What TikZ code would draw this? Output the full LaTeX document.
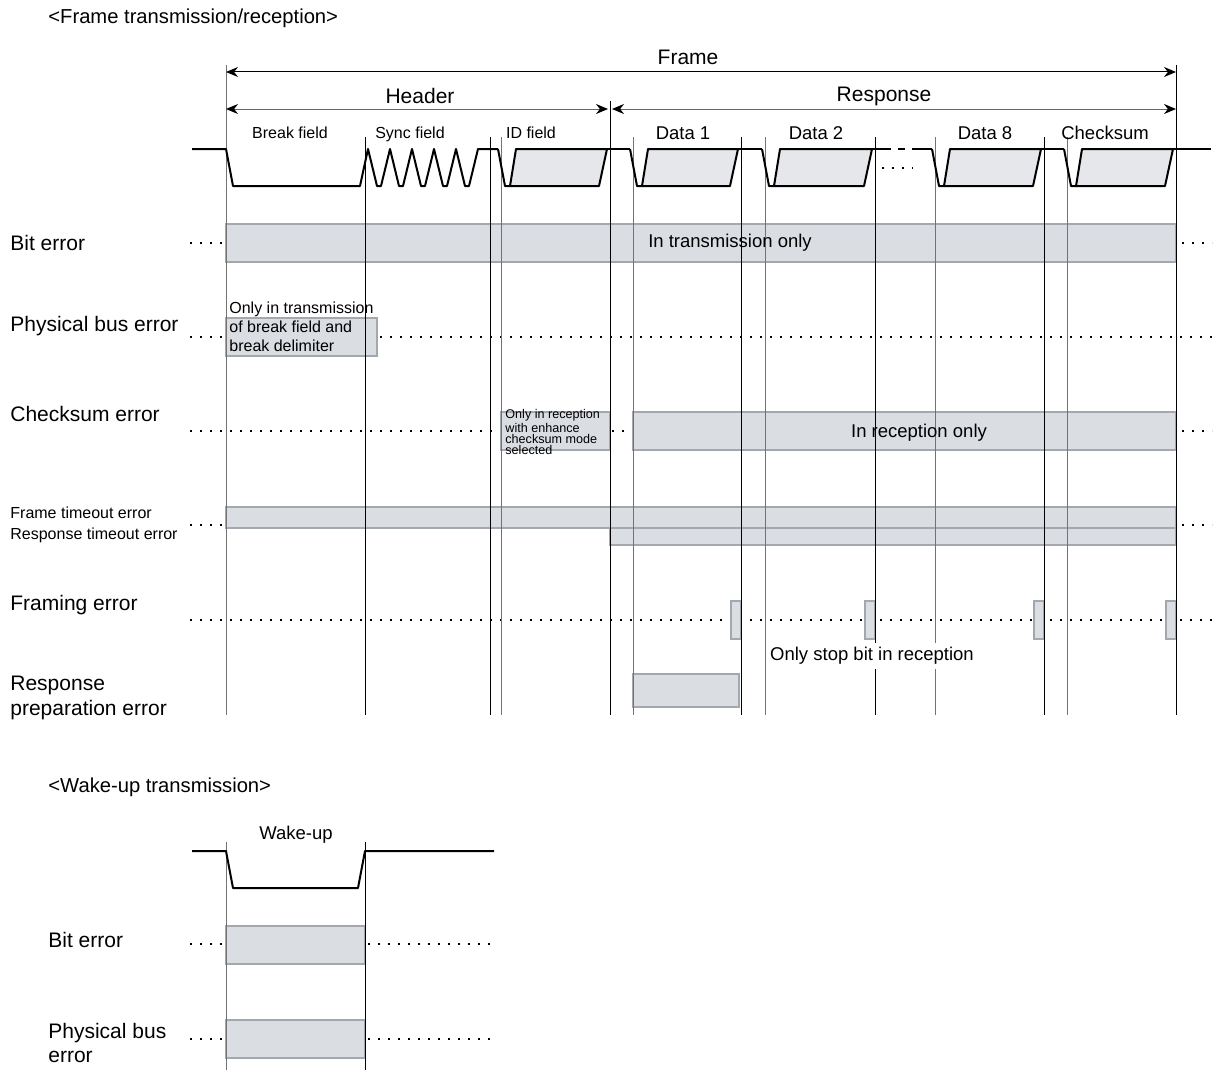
\documentclass[tikz,border=0pt]{standalone}
\usepackage{fontspec}
\setmainfont{Liberation Sans}
\usetikzlibrary{arrows.meta}

\definecolor{boxfill}{RGB}{218,221,226}
\definecolor{boxline}{RGB}{163,168,174}
\definecolor{sigfill}{RGB}{229,231,234}

\begin{document}
\begin{tikzpicture}[
  x=0.5pt, y=-0.5pt,
  vline/.style={black, line width=0.5pt},
  vlinelt/.style={black!55, line width=0.5pt},
  sig/.style={line width=1pt, line join=round},
  sigbox/.style={sig, fill=sigfill},
  errbox/.style={draw=boxline, fill=boxfill, line width=0.75pt},
  dotrow/.style={line width=0.8pt, dash pattern=on 0.8pt off 4.2pt},
  dimarr/.style={{Stealth[black,length=6pt,width=5pt]}-{Stealth[black,length=6pt,width=5pt]}, line width=0.5pt},
  rowlabel/.style={anchor=west, inner sep=0pt, align=left, font=\fontsize{10.5}{12.5}\selectfont},
  smalllabel/.style={anchor=west, inner sep=0pt, align=left, font=\fontsize{8}{9.5}\selectfont},
  fieldlabel/.style={inner sep=0pt, font=\fontsize{8}{9.5}\selectfont},
  bytelabel/.style={inner sep=0pt, font=\fontsize{9.25}{11}\selectfont},
  dimlabel/.style={inner sep=0pt, font=\fontsize{10.5}{12.5}\selectfont},
]
\useasboundingbox (0,0) rectangle (1213,1070);

% --- Titles ---
\node[rowlabel, font=\fontsize{10.1}{12}\selectfont] (title) at (48,18) {<Frame transmission/reception>};
\node[rowlabel, font=\fontsize{10.1}{12}\selectfont] (wtitle) at (48,787) {<Wake-up transmission>};

% --- Dotted rows ---
\draw[dotrow] (190,243) -- (226,243);
\draw[dotrow] (1182,243) -- (1212,243);
\draw[dotrow] (190,337) -- (226,337);
\draw[dotrow] (380,337) -- (1212,337);
\draw[dotrow] (190,431) -- (501,431);
\draw[dotrow] (612,431) -- (633,431);
\draw[dotrow] (1182,431) -- (1212,431);
\draw[dotrow] (190,525) -- (226,525);
\draw[dotrow] (1182,525) -- (1212,525);
\draw[dotrow] (190,620) -- (1212,620);
\draw[dotrow] (190,944) -- (226,944);
\draw[dotrow] (368,944) -- (492,944);
\draw[dotrow] (190,1039) -- (226,1039);
\draw[dotrow] (368,1039) -- (492,1039);

% --- Error ranges ---
\draw[errbox] (226,224) rectangle (1176,262);
\draw[errbox] (226,318) rectangle (377,356);
\draw[errbox] (501,412) rectangle (610,450);
\draw[errbox] (633,412) rectangle (1176,450);
\draw[errbox] (610,528) rectangle (1176,545);
\draw[errbox] (226,507) rectangle (1176,528);
\foreach \xs in {741,875,1044,1176}
  \draw[errbox] (\xs-10,601) rectangle (\xs,639);
\draw[errbox] (633,674) rectangle (739,707);
\draw[errbox] (226,926) rectangle (365,964);
\draw[errbox] (226,1020) rectangle (365,1058);

% --- Field borders ---
\foreach \xv in {365,490,741,875,1044}
  \draw[vline] (\xv,137) -- (\xv,715);
\foreach \xv in {501,633,765,935,1067}
  \draw[vlinelt] (\xv,137) -- (\xv,715);
\draw[vlinelt] (226,65) -- (226,715);
\draw[vline] (1176,65) -- (1176,715);
\draw[vline] (610,101) -- (610,715);
\draw[vlinelt] (226,842) -- (226,1070);
\draw[vline] (365,842) -- (365,1070);

% --- Frame / header / response spans ---
\draw[dimarr] (226,72) -- (1176,72);
\draw[dimarr, draw=black!60] (226,109) -- (608,109);
\draw[dimarr, draw=black!60] (612,109) -- (1176,109);
\node[dimlabel] (frame) at (688,57) {Frame};
\node[dimlabel] (header) at (420,96) {Header};
\node[dimlabel] (response) at (884,96) {Response};

% --- Bus waveform ---
\draw[sig] (192,149) -- (226,149) -- (233,186) -- (360,186) -- (368,149)
  \foreach \k in {0,...,4} { -- ({377+22*\k},186) -- ({381+22*\k},186) -- ({390+22*\k},149) }
  -- (498,149);
\foreach \xa/\xb in {501/610, 633/741, 765/875, 935/1044, 1067/1176} {
  \draw[sig] (\xa-3,149) -- (\xa+4,186) -- (\xa+9,186);
  \filldraw[sigbox] (\xa+9,186) -- (\xa+15,149) -- (\xb-3,149) -- (\xb-11,186) -- cycle;
}
\draw[sig] (607,149) -- (630,149);
\draw[sig] (738,149) -- (762,149);
\draw[sig] (872,149) -- (884,149);
\draw[sig, dash pattern=on 3.5pt off 3.5pt] (884,149) -- (912,149);
\draw[sig] (912,149) -- (932,149);
\draw[sig] (1041,149) -- (1064,149);
\draw[sig] (1173,149) -- (1211,149);
\draw[dotrow] (882,168) -- (913,168);

\node[fieldlabel] (brk) at (290,133) {Break field};
\node[fieldlabel] (sync) at (410,134) {Sync field};
\node[fieldlabel] (idf) at (531,133) {ID field};
\node[bytelabel] (data1) at (683,133) {Data 1};
\node[bytelabel] (data2) at (816,133) {Data 2};
\node[bytelabel] (data8) at (985,133) {Data 8};
\node[bytelabel] (cksum) at (1105,133) {Checksum};

% --- Wake-up waveform ---
\draw[sig] (192,851) -- (226,851) -- (233,888) -- (358,888) -- (365,851) -- (494,851);
\node[bytelabel] (wakeup) at (296,835) {Wake-up};

% --- Range notes ---
\node[bytelabel] (intx) at (730,243) {In transmission only};
\node[smalllabel] (pbnote) at (229,327) {Only in transmission\\of break field and\\break delimiter};
\node[anchor=west, inner sep=0pt, align=left, font=\fontsize{6.3}{5.6}\selectfont] (csnote) at (505,432)
  {Only in reception\\with enhance\\checksum mode\\selected};
\node[bytelabel] (inrx) at (919,433) {In reception only};
\node[bytelabel, fill=white, inner sep=2pt] (stopbit) at (872,656) {Only stop bit in reception};

% --- Row labels ---
\node[rowlabel] (biterr) at (10,243) {Bit error};
\node[rowlabel] (physerr) at (10,326) {Physical bus error};
\node[rowlabel] (cserr) at (10,414) {Checksum error};
\node[smalllabel] (frameto) at (10,513) {Frame timeout error};
\node[smalllabel] (respto) at (10,535) {Response timeout error};
\node[rowlabel] (framerr) at (10,605) {Framing error};
\node[rowlabel] (preperr) at (10,698) {Response\\preparation error};
\node[rowlabel] (wbiterr) at (48,940) {Bit error};
\node[rowlabel, font=\fontsize{10.5}{11.8}\selectfont] (wphyserr) at (48,1043) {Physical bus\\error};

\end{tikzpicture}
\end{document}
